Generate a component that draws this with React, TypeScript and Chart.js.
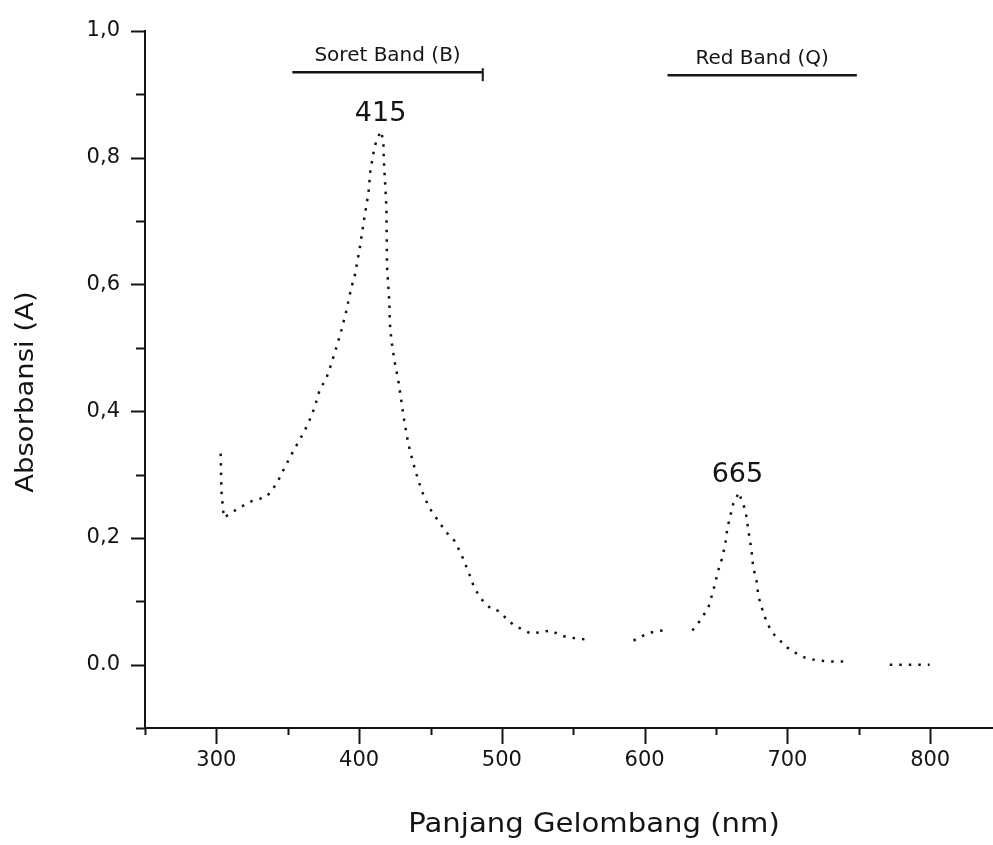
import React, { useEffect, useRef } from "react";
import { Chart, registerables } from "chart.js";

Chart.register(...registerables);

// ---- data ----
const wavelength = [
  303, 303.5, 305.2, 316.4, 324.8, 335.3, 342.3, 347.8, 354.1, 361.1, 364.6, 368.8, 372.3, 377.2, 380.7,
  384.1, 387.6, 391.1, 394.6, 396.7, 400.2, 403.7, 406.5, 407.9, 410, 412.1, 414.9, 415.6, 417, 417.3,
  419.1, 419.5, 421.2, 421.5, 422.6, 424.7, 427.4, 429.5, 431.6, 434.4, 437.9, 441.4, 445.6, 450.5, 455.4,
  461, 466.6, 471.4, 477, 480.5, 485.4, 492.4, 497.3, 508.4, 520.3, 529.3, 534.2, 541.2, 546.8, 560.8,
  576, 592.2, 599.2, 606.2, 616.7, 625, 633.4, 639, 644.6, 648.1, 651.6, 654.4, 656.5, 657.9, 660,
  662.1, 664.9, 665.6, 669.1, 671.2, 672.6, 674.7, 676.1, 678.8, 679.5, 682.3, 685.8, 690, 694.9, 699.8,
  706.8, 712.4, 718, 728.4, 740.3, 756, 771.7, 785, 799.6,
];
const absorbance = [
  0.333, 0.275, 0.232, 0.248, 0.258, 0.265, 0.286, 0.311, 0.338, 0.366, 0.382, 0.406, 0.433, 0.453, 0.476,
  0.501, 0.528, 0.559, 0.596, 0.611, 0.654, 0.706, 0.744, 0.78, 0.807, 0.828, 0.84, 0.842, 0.82, 0.796,
  0.722, 0.63, 0.57, 0.539, 0.512, 0.48, 0.449, 0.417, 0.385, 0.349, 0.318, 0.291, 0.264, 0.243, 0.227,
  0.209, 0.196, 0.175, 0.144, 0.122, 0.104, 0.088, 0.085, 0.062, 0.049, 0.052, 0.054, 0.046, 0.043, 0.039,
  null, 0.038, 0.046, 0.052, 0.055, null, 0.054, 0.07, 0.09, 0.117, 0.149, 0.169, 0.191, 0.215, 0.235,
  0.254, 0.267, 0.272, 0.254, 0.235, 0.212, 0.183, 0.153, 0.128, 0.109, 0.088, 0.065, 0.049, 0.038, 0.027,
  0.017, 0.011, 0.008, 0.005, 0.005, null, 0.0, 0.0, 0.0,
];

const xTickValues = [250, 300, 350, 400, 450, 500, 550, 600, 650, 700, 750, 800];
const xTickLabels = ["", "300", "", "400", "", "500", "", "600", "", "700", "", "800"];
const yTickValues = [-0.1, 0, 0.1, 0.2, 0.3, 0.4, 0.5, 0.6, 0.7, 0.8, 0.9, 1.0];
const yTickLabels = ["", "0.0", "", "0,2", "", "0,4", "", "0,6", "", "0,8", "", "1,0"];

const peakWavelengths = [415, 665];
const peakLabels = ["415", "665"];

const bandNames = ["Soret Band (B)", "Red Band (Q)"];
const bandStart = [353.2, 616];
const bandEnd = [486.6, 748.6];
const bandLevel = [0.935, 0.93];
const bandEndMark = [true, false];

const xTitle = "Panjang Gelombang (nm)";
const yTitle = "Absorbansi (A)";

const FONT = "'DejaVu Sans', 'Liberation Sans', sans-serif";
const INK = "#141414";

const decorPlugin = {
  id: "decor",
  afterDraw(chart: any) {
    const { ctx, chartArea } = chart;
    const xs = chart.scales.x;
    const ys = chart.scales.y;
    ctx.save();
    ctx.strokeStyle = INK;
    ctx.fillStyle = INK;
    ctx.lineWidth = 2;

    // y tick marks (outward, to the left)
    yTickValues.forEach((v, i) => {
      const py = Math.round(ys.getPixelForValue(v)) + 0.5;
      const len = yTickLabels[i] ? 14 : 9;
      ctx.beginPath();
      ctx.moveTo(chartArea.left, py);
      ctx.lineTo(chartArea.left - len, py);
      ctx.stroke();
    });
    // x tick marks (outward, downward)
    xTickValues.forEach((v, i) => {
      const px = Math.round(xs.getPixelForValue(v)) + 0.5;
      const len = xTickLabels[i] ? 16 : 7;
      ctx.beginPath();
      ctx.moveTo(px, chartArea.bottom);
      ctx.lineTo(px, chartArea.bottom + len);
      ctx.stroke();
    });

    // band markers
    bandNames.forEach((name, i) => {
      const x1 = xs.getPixelForValue(bandStart[i]);
      const x2 = xs.getPixelForValue(bandEnd[i]);
      const py = ys.getPixelForValue(bandLevel[i]);
      ctx.lineWidth = 2.5;
      ctx.beginPath();
      ctx.moveTo(x1, py);
      ctx.lineTo(x2, py);
      ctx.stroke();
      if (bandEndMark[i]) {
        ctx.lineWidth = 2;
        ctx.beginPath();
        ctx.moveTo(x2, py - 4);
        ctx.lineTo(x2, py + 9);
        ctx.stroke();
      }
      ctx.font = `20px ${FONT}`;
      ctx.textAlign = "center";
      ctx.textBaseline = "alphabetic";
      ctx.fillText(name, (x1 + x2) / 2, py - 11);
    });

    // peak labels
    peakWavelengths.forEach((w, i) => {
      let best = -1;
      let bestVal = -Infinity;
      wavelength.forEach((x, j) => {
        const a = absorbance[j];
        if (a !== null && Math.abs(x - w) <= 5 && (a as number) > bestVal) {
          bestVal = a as number;
          best = j;
        }
      });
      const px = xs.getPixelForValue(w);
      const py = ys.getPixelForValue(best >= 0 ? bestVal : 0);
      ctx.font = `27px ${FONT}`;
      ctx.textAlign = "center";
      ctx.textBaseline = "alphabetic";
      ctx.fillText(peakLabels[i], px, py - 10);
    });

    // axis titles
    ctx.font = `26px ${FONT}`;
    ctx.textAlign = "center";
    ctx.textBaseline = "alphabetic";
    ctx.save();
    ctx.translate(594, 832);
    ctx.scale(1.12, 1);
    ctx.fillText(xTitle, 0, 0);
    ctx.restore();

    ctx.font = `25px ${FONT}`;
    ctx.save();
    ctx.translate(33, 392);
    ctx.rotate(-Math.PI / 2);
    ctx.scale(1.1, 1);
    ctx.fillText(yTitle, 0, 0);
    ctx.restore();

    ctx.restore();
  },
};

export default function App() {
  const canvasRef = useRef<HTMLCanvasElement | null>(null);

  useEffect(() => {
    const canvas = canvasRef.current;
    if (!canvas) return;
    Chart.defaults.font.family = FONT;
    const points = wavelength.map((x, i) => ({ x, y: absorbance[i] }));
    const chart = new Chart(canvas, {
      type: "line",
      data: {
        datasets: [
          {
            data: points as any,
            borderColor: INK,
            borderWidth: 2.5,
            borderDash: [2.5, 7],
            pointRadius: 0,
            tension: 0,
            spanGaps: false,
            fill: false,
          },
        ],
      },
      options: {
        responsive: false,
        animation: false,
        layout: { padding: { top: 31, right: 0, bottom: 0, left: 0 } },
        plugins: { legend: { display: false }, tooltip: { enabled: false } },
        scales: {
          x: {
            type: "linear",
            min: 250,
            max: 844,
            grid: { display: false, drawTicks: false },
            border: { display: true, color: INK, width: 2 },
            ticks: {
              color: INK,
              font: { size: 21 },
              padding: 20,
              autoSkip: false,
              maxRotation: 0,
              callback: (v: any) => {
                const i = xTickValues.indexOf(Number(v));
                return i >= 0 ? xTickLabels[i] : "";
              },
            },
            afterBuildTicks: (s: any) => {
              s.ticks = xTickValues.map((value) => ({ value }));
            },
            afterFit: (s: any) => {
              s.height = 117;
              s.paddingLeft = 0;
              s.paddingRight = 0;
            },
          },
          y: {
            type: "linear",
            min: -0.1,
            max: 1.0,
            grid: { display: false, drawTicks: false },
            border: { display: true, color: INK, width: 2 },
            ticks: {
              color: INK,
              font: { size: 21 },
              padding: 25,
              autoSkip: false,
              callback: (v: any) => {
                const i = yTickValues.findIndex((t) => Math.abs(t - Number(v)) < 1e-6);
                return i >= 0 ? yTickLabels[i] : "";
              },
            },
            afterBuildTicks: (s: any) => {
              s.ticks = yTickValues.map((value) => ({ value }));
            },
            afterFit: (s: any) => {
              s.width = 145;
              s.paddingTop = 0;
              s.paddingBottom = 0;
            },
          },
        },
      },
      plugins: [decorPlugin],
    });
    return () => chart.destroy();
  }, []);

  return (
    <div style={{ position: "absolute", left: 0, top: 0, width: 993, height: 845, background: "#fff" }}>
      <canvas ref={canvasRef} width={993} height={845} />
    </div>
  );
}
